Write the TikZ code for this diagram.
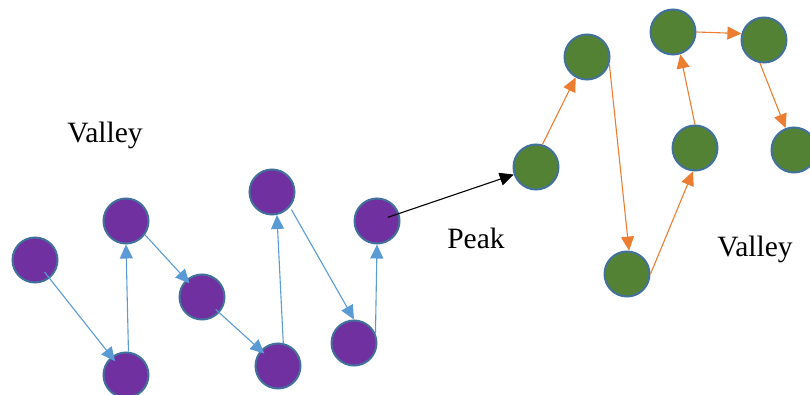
\documentclass[tikz,border=0pt]{standalone}
\usepackage{fontspec}
\setmainfont{Liberation Serif}
\usetikzlibrary{arrows.meta}
\definecolor{purp}{HTML}{7030A0}
\definecolor{grn}{HTML}{548235}
\definecolor{rim}{HTML}{41719C}
\definecolor{blu}{HTML}{5B9BD5}
\definecolor{org}{HTML}{ED7D31}
\begin{document}
\begin{tikzpicture}[x=1pt,y=-1pt,
  pnode/.style={circle,fill=purp,draw=rim,line width=2pt,minimum size=45pt,inner sep=0pt},
  gnode/.style={circle,fill=grn,draw=rim,line width=2pt,minimum size=45pt,inner sep=0pt},
  barrow/.style={draw=blu,line width=1.1pt,-{Triangle[length=14pt,width=13pt]}},
  oarrow/.style={draw=org,line width=1.1pt,-{Triangle[length=14pt,width=13pt]}},
  karrow/.style={draw=black,line width=1.1pt,-{Triangle[length=14pt,width=13pt]}},
  lbl/.style={font=\fontsize{29.5}{33}\selectfont,inner sep=0pt}]
\useasboundingbox (0,0) rectangle (810,395);
\node[pnode] (n1) at (35,260) {};
\node[pnode] (n2) at (126,221) {};
\node[pnode] (n3) at (126,375) {};
\node[pnode] (n4) at (202,297) {};
\node[pnode] (n5) at (272,192) {};
\node[pnode] (n6) at (278,366) {};
\node[pnode] (n7) at (354,343) {};
\node[pnode] (n8) at (377,221) {};
\node[gnode] (n9) at (536,167) {};
\node[gnode] (n10) at (587,57) {};
\node[gnode] (n11) at (627,274) {};
\node[gnode] (n12) at (695,148) {};
\node[gnode] (n13) at (673,32) {};
\node[gnode] (n14) at (764,40) {};
\node[gnode] (n15) at (794,150) {};
\node[lbl] (v1) at (105,135) {Valley};
\node[lbl] (pk) at (476,238) {Peak};
\node[lbl] (v2) at (755,249) {Valley};
\draw[barrow, shorten <=-8pt, shorten >=-6pt] (n1) -- (n3);
\draw[barrow] (n3.84) -- (n2.south);
\draw[barrow, shorten >=-5pt] (n2.-36) -- (n4);
\draw[barrow, shorten <=-5pt, shorten >=-5pt] (n4) -- (n6);
\draw[barrow] (n6.77) -- (n5.282);
\draw[barrow, shorten <=3pt] (n5.-40) -- (n7.north);
\draw[barrow] (n7.24) -- (n8.south);
\draw[karrow, shorten <=-12pt] (n8) -- (n9);
\draw[oarrow] (n9.74) -- (n10.241);
\draw[oarrow] (n10.-18) -- (n11.85);
\draw[oarrow] (n11.east) -- (n12.265);
\draw[oarrow] (n12.north) -- (n13.288);
\draw[oarrow] (n13.east) -- (n14.164);
\draw[oarrow] (n14.260) -- (n15.111);
\end{tikzpicture}
\end{document}
